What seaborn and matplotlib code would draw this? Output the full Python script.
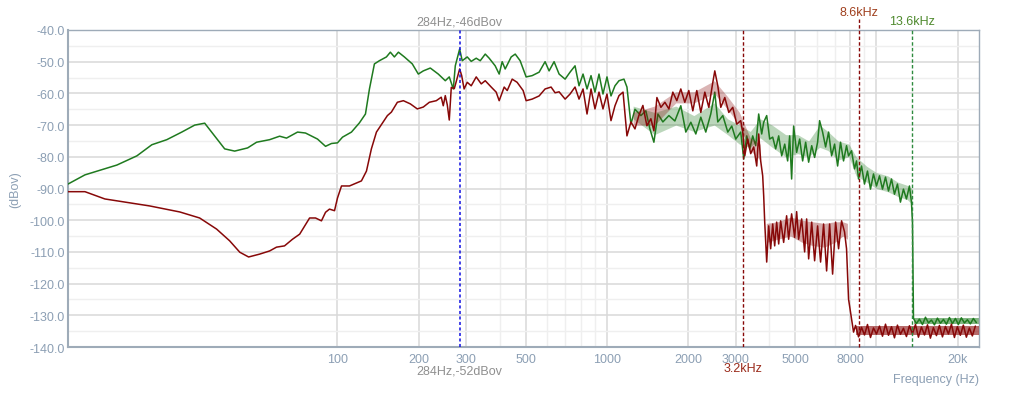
import pandas as pd
import matplotlib
matplotlib.use('Agg')
import matplotlib.pyplot as plt
import seaborn as sns
from matplotlib.ticker import MultipleLocator, NullFormatter, FormatStrFormatter

# spectrum traces, (Hz, dBov)
green_low = [(10, -88.6), (11.56, -85.7), (15.19, -82.6), (18.02, -79.7), (20.47, -76.2),
             (23.26, -74.6), (26.44, -72.2), (29.53, -70.0), (32.16, -69.4), (38.15, -77.5),
             (41.55, -78.2), (46.4, -77.2), (50.1, -75.4), (56.0, -74.6), (61.0, -73.5),
             (64.7, -74.1), (71.1, -72.2), (76.1, -72.5), (84.3, -74.4), (90.3, -76.7),
             (95.0, -75.8), (100, -75.6)]
green_mid = [(104.4, -73.8), (112.7, -72.2), (120.6, -69.3), (127, -66.5), (131.4, -58.6),
             (137.1, -50.7), (143, -49.7), (151.9, -48.5), (157.1, -47.0), (162.6, -48.5),
             (168.3, -47.0), (177.1, -48.5), (189.5, -50.7), (199.5, -53.9), (208.2, -52.9),
             (221, -52.0), (236.6, -53.9), (251.2, -56.0), (259.9, -54.8), (269, -58.6),
             (273.6, -51.3), (284, -46.0), (290.3, -49.7), (303, -48.5), (313.5, -49.9),
             (327.2, -48.9), (338.6, -49.7), (353.4, -47.6), (365.5, -48.9), (384.7, -51.3),
             (398.1, -53.9), (408.4, -50.0), (419, -52.3), (441.1, -48.5), (456.6, -47.6),
             (476.2, -49.7), (501.2, -54.8), (527.6, -54.4), (560, -53.3), (589.3, -50.0),
             (609.8, -52.9), (636.4, -50.0), (664.2, -53.9), (699.2, -55.5), (729.3, -53.3),
             (761.1, -51.3), (787.5, -57.6), (815, -53.9), (843.2, -58.6), (872.5, -54.4),
             (902.5, -59.6), (934, -53.9), (966.4, -60.2), (1000, -54.8), (1034.8, -60.8),
             (1070.7, -57.6), (1108, -56.0), (1156, -55.5), (1186, -58.0)]
green_high = [(1227, -69.7), (1270, -65.0), (1336, -67.0), (1394, -65.5), (1443, -71.2),
              (1493, -75.4), (1545, -66.5), (1612, -69.0), (1697, -67.0), (1786, -68.7),
              (1879, -63.9), (1961, -72.2), (2047, -69.1), (2136, -72.8), (2229, -67.5),
              (2326, -72.2), (2427, -66.5), (2512, -59.6), (2577, -69.0), (2690, -67.0),
              (2807, -72.2), (2904, -70.3), (3004, -74.4), (3135, -72.2), (3217, -80.7),
              (3300, -73.4), (3386, -77.5), (3473, -73.4), (3564, -76.5), (3655, -66.5),
              (3750, -72.8), (3815, -69.1), (3914, -67.0), (4015, -74.4), (4120, -73.8),
              (4226, -77.5), (4336, -73.4), (4449, -79.7), (4566, -76.0), (4681, -81.3),
              (4762, -73.4), (4843, -87.0), (4927, -70.3), (5055, -78.6), (5187, -74.4),
              (5321, -81.3), (5459, -75.4), (5601, -81.7), (5749, -76.5), (5894, -80.2),
              (6046, -75.4), (6150, -68.6), (6310, -72.2), (6474, -76.9), (6642, -72.2),
              (6815, -79.7), (6991, -76.0), (7174, -82.9), (7355, -75.4), (7546, -81.3),
              (7742, -76.5), (7876, -79.7), (8080, -78.1), (8289, -83.8), (8432, -81.3),
              (8578, -87.0), (8801, -82.9), (9025, -88.6), (9259, -84.5), (9500, -90.2),
              (9747, -85.4), (10000, -89.2), (10260, -86.0), (10526, -90.2), (10800, -86.4),
              (11080, -90.8), (11370, -87.0), (11660, -91.8), (11960, -88.6), (12270, -94.3),
              (12589, -90.2), (12916, -93.3), (13250, -89.2), (13480, -94.3), (13600, -100.6)]
green_tail = [(13716, -131.0), (14068, -132.6), (14430, -131.2), (14810, -132.9),
              (15195, -130.6), (15590, -132.4), (15990, -131.5), (16405, -133.0),
              (16830, -130.9), (17270, -132.5), (17720, -131.3), (18175, -132.8),
              (18650, -130.7), (19130, -132.6), (19630, -131.0), (20130, -132.9),
              (20650, -130.8), (21190, -132.4), (21740, -131.4), (22300, -132.7),
              (22880, -131.0), (23470, -132.3)]

red_low = [(10, -91.0), (11.56, -91.0), (13.71, -93.3), (20.1, -95.5), (26.0, -97.4),
           (30.8, -99.3), (35.6, -102.8), (39.8, -106.5), (43.4, -110.1), (46.8, -111.6),
           (51.4, -110.7), (56.0, -109.7), (59.4, -108.5), (63.6, -108.1), (68.1, -106.0),
           (72.4, -104.4), (78.8, -99.3), (82.9, -99.3), (87.2, -100.2), (90.3, -97.5),
           (93.4, -96.5), (97.5, -97.0)]
red_mid = [(100, -93.0), (103.5, -89.2), (110.8, -89.2), (122.7, -87.6), (128.1, -84.5),
           (133.6, -77.5), (139.5, -72.2), (153.2, -67.0), (158.5, -65.9), (166.8, -62.8),
           (175.6, -62.3), (186.3, -63.3), (197.8, -64.9), (208.2, -64.3), (219.2, -62.8),
           (232.6, -62.3), (242.7, -61.2), (246.9, -63.9), (251.2, -60.7), (255.5, -63.6),
           (259.9, -68.4), (264.4, -58.1), (271.3, -58.5), (284, -52.3), (289, -54.4),
           (295, -58.6), (303, -56.5), (313.5, -57.6), (327.2, -54.8), (341.5, -57.0),
           (353.4, -56.0), (371.9, -58.0), (388, -59.6), (398.1, -62.3), (415.5, -58.0),
           (426.4, -59.1), (444.9, -55.5), (464, -56.5), (488.5, -59.1), (501.2, -62.3),
           (527.6, -61.8), (560, -60.8), (589.3, -58.6), (620.3, -58.0), (641.8, -59.8),
           (664.2, -59.5), (699.2, -61.8), (729.3, -60.2), (761.1, -58.0), (787.5, -61.8),
           (815, -58.6), (843.2, -66.5), (872.5, -58.6), (902.5, -64.9), (934, -59.6),
           (966.4, -64.9), (1000, -60.2), (1034.8, -68.6), (1070.7, -63.9), (1108, -60.7),
           (1147, -59.6)]
red_high = [(1186, -73.4), (1227, -69.0), (1270, -71.2), (1313, -67.0), (1359, -63.8),
            (1406, -70.2), (1455, -68.0), (1493, -71.8), (1532, -61.3), (1585, -64.4),
            (1640, -62.8), (1697, -64.9), (1755, -59.6), (1816, -62.3), (1879, -58.6),
            (1944, -62.8), (2012, -59.1), (2082, -65.5), (2154, -59.1), (2229, -66.0),
            (2307, -59.6), (2387, -64.4), (2470, -56.5), (2512, -52.9), (2577, -57.6),
            (2644, -64.4), (2736, -61.3), (2831, -66.0), (2929, -64.4), (3030, -69.7),
            (3135, -68.6), (3189, -72.2), (3245, -79.7), (3326, -74.4), (3414, -79.0),
            (3503, -76.9), (3594, -82.9), (3655, -72.8), (3718, -81.3), (3782, -86.0),
            (3815, -92.4), (3848, -100.6), (3914, -113.2), (3981, -101.8), (4049, -109.0),
            (4120, -101.2), (4190, -108.1), (4262, -100.6), (4336, -107.5), (4410, -100.2),
            (4524, -107.0), (4640, -98.6), (4721, -106.0), (4843, -98.0), (4969, -105.4),
            (5055, -97.3), (5142, -106.0), (5276, -99.6), (5412, -110.0), (5506, -99.6),
            (5601, -112.2), (5749, -100.6), (5894, -112.8), (6046, -101.8), (6202, -113.2),
            (6364, -101.2), (6530, -116.0), (6700, -101.2), (6873, -117.0), (7052, -100.6),
            (7233, -109.0), (7420, -100.2), (7611, -103.7), (7742, -109.0), (7876, -124.9),
            (8080, -131.2), (8220, -135.3)]
red_tail = [(8361, -133.2), (8578, -136.8), (8801, -133.8), (9025, -136.2), (9259, -132.9),
            (9500, -137.0), (9747, -134.0), (10000, -135.9), (10260, -133.4), (10526, -136.6),
            (10800, -132.8), (11080, -136.3), (11370, -133.6), (11660, -137.1), (11960, -133.1),
            (12270, -136.0), (12589, -134.1), (12916, -136.7), (13250, -133.3), (13600, -135.8),
            (13950, -132.9), (14310, -136.9), (14680, -133.7), (15070, -136.2), (15460, -133.0),
            (15849, -137.2), (16260, -133.9), (16690, -136.4), (17120, -133.2), (17570, -136.8),
            (18020, -133.5), (18490, -135.9), (18970, -132.8), (19460, -137.0), (19953, -133.6),
            (20470, -136.3), (21000, -133.1), (21550, -136.9), (22110, -134.0), (22680, -136.5),
            (23270, -133.4)]

# dense-noise spread of the traces (Hz, low dB, high dB)
green_spread = [(1250, -68, -64), (1500, -73, -66), (1800, -70, -64), (2100, -72, -67),
                (2500, -70, -63), (2800, -73, -68), (3100, -76, -70), (3400, -77, -72),
                (3700, -74, -68), (4100, -77, -70), (4600, -80, -73), (5100, -79, -73),
                (5600, -80, -75), (6150, -77, -70), (6600, -78, -72), (7200, -81, -75),
                (7900, -80, -76), (8400, -86, -80), (9200, -88, -83), (10000, -90, -85),
                (11000, -91, -86), (12000, -92.5, -88), (13000, -93.5, -89), (13550, -95, -90)]
green_tail_spread = [(13800, -132.6, -131.0), (24000, -132.6, -131.0)]
red_spread = [(1250, -70, -66), (1500, -70, -64), (1800, -63, -59.5), (2100, -63, -59.5),
              (2500, -60, -56), (2800, -65, -61), (3100, -70, -66), (3400, -78, -74),
              (3700, -81, -76)]
red_cut_spread = [(3900, -107, -101), (4300, -106, -100.5), (4800, -105, -99),
                  (5300, -107, -100), (5800, -108, -100.5), (6400, -108.5, -101),
                  (7000, -107, -100.5), (7500, -105, -100.5), (7800, -106, -101)]
red_tail_spread = [(8400, -136.3, -133.4), (24000, -136.3, -133.4)]

# marker cursors
peak_hz = 284
cut_red_lo, cut_red_hi, cut_green = 3200, 8600, 13600

x_ticks = [100, 200, 300, 500, 1000, 2000, 3000, 5000, 8000, 10000, 20000]
x_labels = ['100', '200', '300', '500', '1000', '2000', '3000', '5000', '8000', '', '20k']
x_minor = [400, 600, 700, 800, 900, 4000, 6000, 7000, 9000]

GREEN = '#1f7a1f'
RED = '#870808'
TXT = '#8c9fb4'

frames = []
for name, segs in (('green', green_low + green_mid + green_high + green_tail),
                   ('red', red_low + red_mid + red_high + red_tail)):
    d = pd.DataFrame(segs, columns=['hz', 'db'])
    d['trace'] = name
    frames.append(d)
df = pd.concat(frames, ignore_index=True)

sns.set_theme(style='white')
plt.rcParams['font.family'] = ['Liberation Sans', 'DejaVu Sans']

fig = plt.figure(figsize=(10.13, 4.02), dpi=100)
ax = fig.add_axes([0.0671, 0.1343, 0.8993, 0.7886])

for spread, col, a, z in ((green_spread, GREEN, 0.3, 2.5), (green_tail_spread, GREEN, 0.55, 2.5),
                          (red_spread, RED, 0.3, 3.5), (red_cut_spread, RED, 0.35, 3.5),
                          (red_tail_spread, RED, 0.6, 3.5)):
    s = pd.DataFrame(spread, columns=['hz', 'lo', 'hi'])
    ax.fill_between(s['hz'], s['lo'], s['hi'], color=col, alpha=a, lw=0, zorder=z)

sns.lineplot(data=df[df.trace == 'green'], x='hz', y='db', color=GREEN,
             estimator=None, sort=False, lw=1.1, ax=ax, zorder=3)
sns.lineplot(data=df[df.trace == 'red'], x='hz', y='db', color=RED,
             estimator=None, sort=False, lw=1.1, ax=ax, zorder=4)

ax.set_xscale('log')
ax.set_xlim(10, 24000)
ax.set_ylim(-140, -40)

ax.set_xticks(x_ticks, labels=x_labels)
ax.set_xticks(x_minor, minor=True)
ax.xaxis.set_minor_formatter(NullFormatter())
ax.yaxis.set_major_locator(MultipleLocator(10))
ax.yaxis.set_minor_locator(MultipleLocator(5))
ax.yaxis.set_major_formatter(FormatStrFormatter('%.1f'))

ax.grid(which='major', color='#d9d9d9', lw=1.1)
ax.grid(which='minor', color='#efefef', lw=1.0)
ax.tick_params(which='both', length=0, labelsize=9, labelcolor=TXT)
ax.tick_params(axis='y', pad=2)
ax.tick_params(axis='x', pad=4)

for side, sp in ax.spines.items():
    sp.set_color('#9eabb8')
    sp.set_linewidth(1.5 if side in ('left', 'bottom') else 1.0)

ax.set_ylabel('(dBov)', fontsize=9, color=TXT, labelpad=6)
ax.set_xlabel('Frequency (Hz)', fontsize=9, color=TXT, loc='right', labelpad=6)

ax.axvline(peak_hz, color='#1010e0', ls=(0, (2, 1.6)), lw=1.1, zorder=5)
ax.axvline(cut_red_lo, color=RED, ls=(0, (2.5, 1.6)), lw=1.0, zorder=5)
ax.axvline(cut_red_hi, color=RED, ls=(0, (2.5, 1.6)), lw=1.0, ymax=1.035, clip_on=False, zorder=5)
ax.axvline(cut_green, color='#2e8b3e', ls=(0, (2.5, 1.6)), lw=1.0, zorder=5)

tr = ax.get_xaxis_transform()
ax.text(peak_hz, 1.027, '284Hz,-46dBov', transform=tr, ha='center', va='center',
        fontsize=9, color='#8f8f8f')
ax.text(peak_hz, -0.073, '284Hz,-52dBov', transform=tr, ha='center', va='center',
        fontsize=9, color='#8f8f8f')
ax.text(cut_red_hi, 1.058, '8.6kHz', transform=tr, ha='center', va='center',
        fontsize=9, color='#a0401e')
ax.text(cut_green, 1.027, '13.6kHz', transform=tr, ha='center', va='center',
        fontsize=9, color='#4f8a2e')
ax.text(cut_red_lo, -0.066, '3.2kHz', transform=tr, ha='center', va='center',
        fontsize=9, color='#9a2a1a')

fig.savefig('out.png', dpi=100)
